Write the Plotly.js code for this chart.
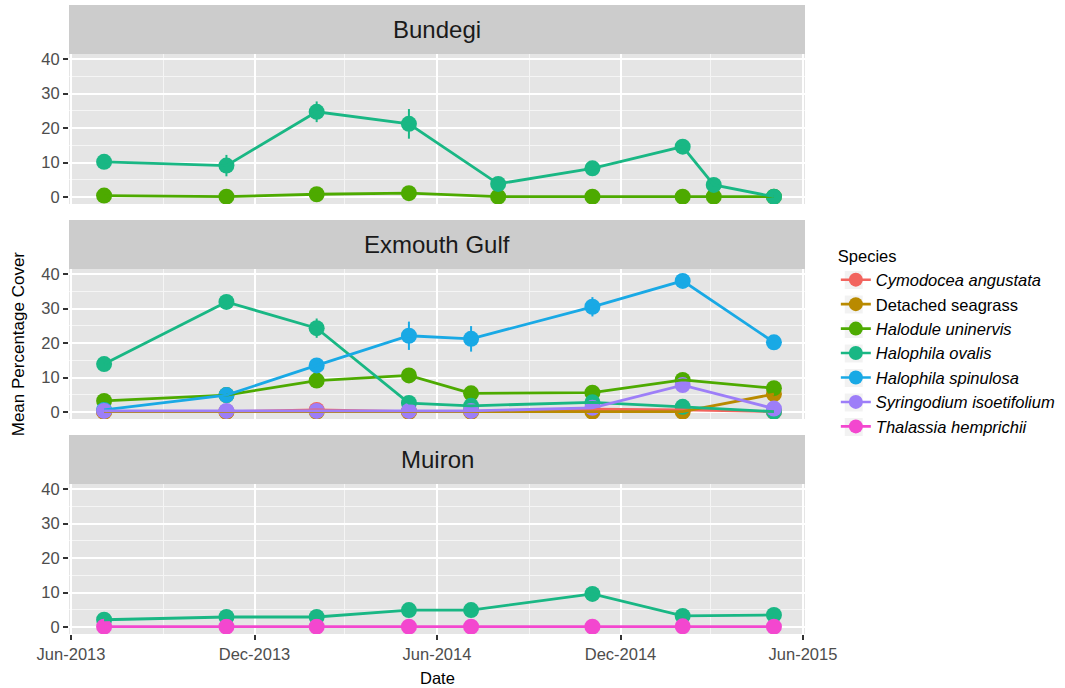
<!DOCTYPE html>
<html>
<head>
<meta charset="utf-8">
<script src="https://cdn.plot.ly/plotly-3.0.1.min.js"></script>
<style>html,body{margin:0;padding:0;background:#fff;}#chart{width:1065px;height:688px;}</style>
</head>
<body>
<div id="chart"></div>
<script>
// ---- data ----
const speciesNames = ['Cymodocea angustata','Detached seagrass','Halodule uninervis','Halophila ovalis','Halophila spinulosa','Syringodium isoetifolium','Thalassia hemprichii'];
const speciesItalic = [true,false,true,true,true,true,true];
const speciesColors = ['#F2645E','#B98A00','#4DAA00','#19B784','#19A9E5','#9D7EF8','#F347CF'];
const siteNames = ['Bundegi','Exmouth Gulf','Muiron'];

const bundegiDates = ['2013-07-04','2013-11-03','2014-02-01','2014-05-04','2014-08-01','2014-11-03','2015-02-01','2015-03-04','2015-05-03'];
const exmouthDates = ['2013-07-04','2013-11-03','2014-02-01','2014-05-04','2014-07-05','2014-11-03','2015-02-01','2015-05-03'];
const muironDates  = ['2013-07-04','2013-11-03','2014-02-01','2014-05-04','2014-07-05','2014-11-03','2015-02-01','2015-05-03'];

// Bundegi
const bundegiHalodule    = [0.4,0.1,0.8,1.1,0.1,0.1,0.1,0.1,0.1];
const bundegiHaloduleSE  = [0.2,0.1,0.4,0.5,0.1,0.1,0.1,0.1,0.1];
const bundegiOvalis      = [10.2,9.1,24.7,21.2,3.8,8.3,14.6,3.5,0.1];
const bundegiOvalisSE    = [1.2,3.1,3.0,4.3,1.0,1.2,1.2,1.0,0.1];
// Exmouth Gulf
const exmouthCymodocea   = [0.1,0.1,0.6,0.1,0.2,0.8,0.6,0.1];
const exmouthCymodoceaSE = [0.1,0.1,0.3,0.1,0.1,0.4,0.3,0.1];
const exmouthDetached    = [0.1,0.1,0.1,0.1,0.1,0.1,0.1,5.2];
const exmouthDetachedSE  = [0.1,0.1,0.1,0.1,0.1,0.1,0.1,1.0];
const exmouthHalodule    = [3.2,4.9,9.1,10.6,5.4,5.6,9.3,6.9];
const exmouthHaloduleSE  = [0.8,0.8,1.2,1.4,1.0,1.2,1.6,1.3];
const exmouthOvalis      = [13.9,31.9,24.3,2.6,1.8,2.8,1.5,0.1];
const exmouthOvalisSE    = [1.2,1.6,2.8,1.0,0.6,0.8,0.6,0.1];
const exmouthSpinulosa   = [0.6,4.9,13.5,22.1,21.2,30.5,38.0,20.2];
const exmouthSpinulosaSE = [0.3,1.2,1.5,4.1,3.7,2.8,1.3,1.2];
const exmouthSyringodium   = [0.3,0.3,0.3,0.3,0.3,1.2,7.8,1.0];
const exmouthSyringodiumSE = [0.1,0.1,0.1,0.1,0.2,0.6,1.5,0.8];
// Muiron
const muironOvalis       = [2.1,2.9,2.9,4.9,4.9,9.6,3.2,3.5];
const muironOvalisSE     = [0.5,0.6,0.6,0.8,0.8,1.6,0.7,0.8];
const muironThalassia    = [0.1,0.1,0.1,0.1,0.1,0.1,0.2,0.1];
const muironThalassiaSE  = [0.1,0.1,0.1,0.1,0.1,0.1,0.1,0.1];

const xTickFormat = '%b-%Y';
const yTicks = [0,10,20,30,40];

// series per panel: [speciesIndex, dates, values, se]
const panels = [
  {x:'x2', y:'y',  series:[[2,bundegiDates,bundegiHalodule,bundegiHaloduleSE],[3,bundegiDates,bundegiOvalis,bundegiOvalisSE]]},
  {x:'x3', y:'y2', series:[[0,exmouthDates,exmouthCymodocea,exmouthCymodoceaSE],[1,exmouthDates,exmouthDetached,exmouthDetachedSE],
                           [2,exmouthDates,exmouthHalodule,exmouthHaloduleSE],[3,exmouthDates,exmouthOvalis,exmouthOvalisSE],
                           [4,exmouthDates,exmouthSpinulosa,exmouthSpinulosaSE],[5,exmouthDates,exmouthSyringodium,exmouthSyringodiumSE]]},
  {x:'x',  y:'y3', series:[[3,muironDates,muironOvalis,muironOvalisSE],[6,muironDates,muironThalassia,muironThalassiaSE]]}
];

const traces = [];
panels.forEach(p => {
  // points + error bars first
  p.series.forEach(s => {
    const c = speciesColors[s[0]];
    traces.push({type:'scatter', mode:'markers', x:s[1], y:s[2], xaxis:p.x, yaxis:p.y,
      marker:{color:c, size:16, line:{width:0}},
      error_y:{type:'data', array:s[3], visible:true, color:c, thickness:2, width:0},
      showlegend:false, hoverinfo:'x+y'});
  });
  // lines on top
  p.series.forEach(s => {
    const c = speciesColors[s[0]];
    traces.push({type:'scatter', mode:'lines', x:s[1], y:s[2], xaxis:p.x, yaxis:p.y,
      line:{color:c, width:2.8}, showlegend:false, hoverinfo:'skip'});
  });
});
// legend entries
speciesNames.forEach((n,i) => {
  traces.push({type:'scatter', mode:'lines+markers', x:[null], y:[null], xaxis:'x', yaxis:'y3',
    name: speciesItalic[i] ? '<i>'+n+'</i>' : n,
    marker:{color:speciesColors[i], size:14}, line:{color:speciesColors[i], width:2.6}, showlegend:true});
});

// ---- layout ----
const W = 1065, H = 688;
const mL = 69, mR = 256, mT = 5, mB = 54;
const plotH = H - mT - mB;
function fy(px){ return (H - mB - px) / plotH; }   // pixel y -> paper fraction
function fx(px){ return (px - mL) / (W - mL - mR); }

const panelPx = [[54,204],[269,419],[484,634]];
const stripPx = [[5,54],[220,269],[435,484]];
const xRange = ['2013-05-30','2015-06-03'];
const yRange = [-2.03, 41.45];

const fontFam = '"Liberation Sans", Arial, Helvetica, sans-serif';

function xAxis(anchor, showLabels){
  return {type:'date', anchor:anchor, domain:[0,1], range:xRange,
    tick0:'2013-06-01', dtick:'M6', tickformat:xTickFormat,
    showticklabels:showLabels, ticks: showLabels ? 'outside' : '', ticklen:5, tickwidth:2, tickcolor:'#333333',
    tickfont:{family:fontFam, size:16.5, color:'#4D4D4D'},
    showgrid:true, gridcolor:'#FFFFFF', gridwidth:2,
    minor:{tick0:'2013-06-01', dtick:'M3', showgrid:true, gridcolor:'#F5F5F5', gridwidth:1, ticks:''},
    zeroline:false, showline:false, fixedrange:true};
}
function yAxis(anchor, dom){
  return {anchor:anchor, domain:dom, range:yRange, tickvals:yTicks, ticktext:yTicks.map(String),
    ticks:'outside', ticklen:5, tickwidth:2, tickcolor:'#333333',
    tickfont:{family:fontFam, size:16.5, color:'#4D4D4D'},
    showgrid:true, gridcolor:'#FFFFFF', gridwidth:2,
    minor:{tickvals:[5,15,25,35], showgrid:true, gridcolor:'#F5F5F5', gridwidth:1, ticks:''},
    zeroline:false, showline:false, fixedrange:true};
}

const shapes = [];
const annotations = [];
stripPx.forEach((s,i) => {
  shapes.push({type:'rect', xref:'paper', yref:'paper', x0:0, x1:1, y0:fy(s[1]), y1:fy(s[0]),
    fillcolor:'#CCCCCC', line:{width:0}, layer:'below'});
  annotations.push({xref:'paper', yref:'paper', x:0.5, y:(fy(s[0])+fy(s[1]))/2, xanchor:'center', yanchor:'middle',
    text:siteNames[i], showarrow:false, font:{family:fontFam, size:24, color:'#1A1A1A'}});
});
// legend key backgrounds
const keyTop = 280, keyStep = 24.5, keyHalf = 9;
speciesNames.forEach((n,i) => {
  const cy = keyTop + i*keyStep;
  shapes.push({type:'rect', xref:'paper', yref:'paper', x0:fx(849), x1:fx(867), y0:fy(cy+keyHalf), y1:fy(cy-keyHalf),
    fillcolor:'#F2F2F2', line:{width:0}, layer:'below'});
});
annotations.push({xref:'paper', yref:'paper', x:0.5, y:fy(678), xanchor:'center', yanchor:'middle',
  text:'Date', showarrow:false, font:{family:fontFam, size:16.5, color:'#000000'}});
annotations.push({xref:'paper', yref:'paper', x:fx(18), y:fy(344), xanchor:'center', yanchor:'middle', textangle:-90,
  text:'Mean Percentage Cover', showarrow:false, font:{family:fontFam, size:17, color:'#000000'}});

const layout = {
  width:W, height:H, margin:{l:mL, r:mR, t:mT, b:mB, pad:0},
  paper_bgcolor:'#FFFFFF', plot_bgcolor:'#E5E5E5',
  font:{family:fontFam, color:'#000000'},
  xaxis:  xAxis('y3', true),
  xaxis2: Object.assign(xAxis('y', false), {matches:'x'}),
  xaxis3: Object.assign(xAxis('y2', false), {matches:'x'}),
  yaxis:  yAxis('x2', [fy(panelPx[0][1]), fy(panelPx[0][0])]),
  yaxis2: yAxis('x3', [fy(panelPx[1][1]), fy(panelPx[1][0])]),
  yaxis3: yAxis('x',  [fy(panelPx[2][1]), fy(panelPx[2][0])]),
  showlegend:true,
  legend:{x:fx(840), y:fy(241), xanchor:'left', yanchor:'top', bgcolor:'rgba(0,0,0,0)',
    title:{text:'Species', font:{family:fontFam, size:16.5, color:'#000000'}},
    font:{family:fontFam, size:16.5, color:'#000000'}, itemwidth:30, tracegroupgap:0},
  shapes:shapes, annotations:annotations,
  hovermode:'closest'
};

Plotly.newPlot('chart', traces, layout, {displayModeBar:false, staticPlot:true});
</script>
</body>
</html>
